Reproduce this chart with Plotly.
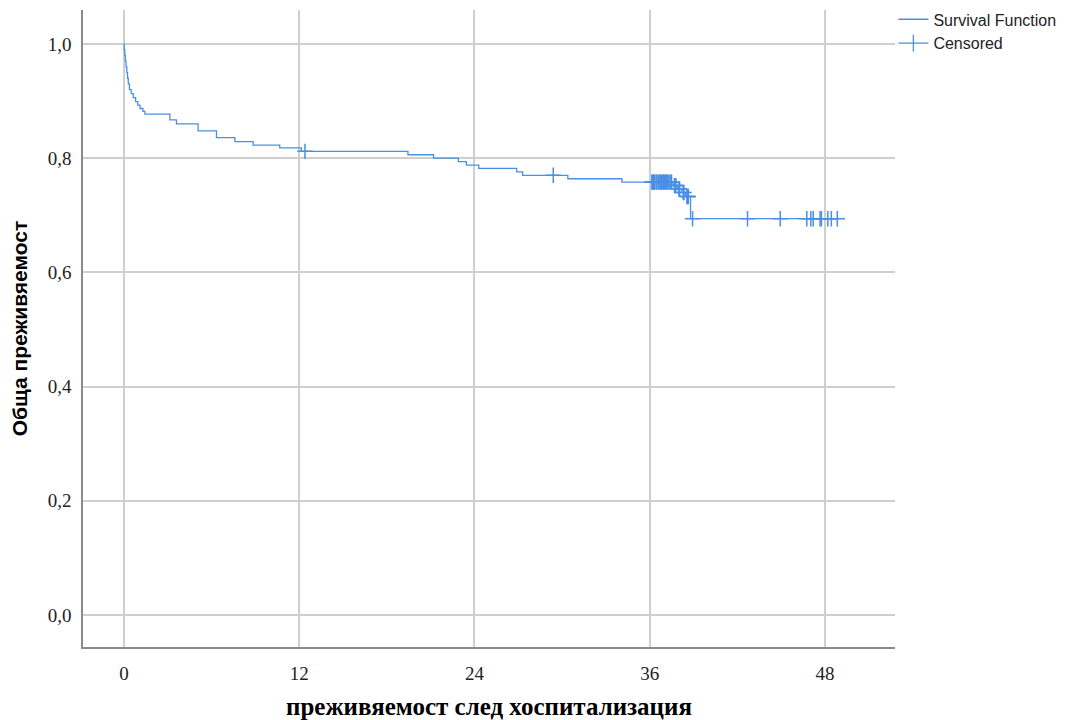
import plotly.graph_objects as go

# Kaplan-Meier step data (months, survival)
event_times = [0.0, 0.02, 0.06, 0.10, 0.15, 0.20, 0.25, 0.30, 0.38, 0.50, 0.64, 0.80, 0.95,
               1.10, 1.30, 1.44, 3.15, 3.60, 5.08, 6.34, 7.60, 8.85, 10.67, 12.15,
               19.45, 21.20, 22.90, 23.45, 24.30, 26.90, 27.30, 30.40, 34.10,
               37.60, 37.90, 38.20, 38.45, 38.80]
survival = [1.000, 0.990, 0.980, 0.970, 0.960, 0.950, 0.940, 0.930, 0.920, 0.913, 0.906, 0.899, 0.893,
            0.887, 0.882, 0.877, 0.867, 0.860, 0.848, 0.836, 0.829, 0.823, 0.818, 0.812,
            0.806, 0.800, 0.794, 0.788, 0.782, 0.776, 0.770, 0.764, 0.758,
            0.752, 0.746, 0.740, 0.733, 0.694]

censored_times = [12.4, 29.4,
                  36.15, 36.2, 36.25, 36.3, 36.35, 36.45, 36.5, 36.6, 36.7, 36.75, 36.8, 36.9,
                  36.95, 37.0, 37.1, 37.15, 37.2, 37.3, 37.4, 37.45, 37.5,
                  37.7, 37.75, 37.8, 38.0, 38.05, 38.3, 38.35, 38.55, 38.6, 38.65,
                  38.94, 42.7, 44.94, 46.76, 47.04, 47.2, 47.67, 47.76, 48.2, 48.44, 48.85]

x_ticks = [0, 12, 24, 36, 48]
y_ticks = [0.0, 0.2, 0.4, 0.6, 0.8, 1.0]
y_ticktext = ["0,0", "0,2", "0,4", "0,6", "0,8", "1,0"]


def surv_at(t):
    s = survival[0]
    for et, sv in zip(event_times, survival):
        if et <= t:
            s = sv
    return s


censored_surv = [surv_at(t) for t in censored_times]
end_t = max(censored_times)
line_x = event_times + [end_t]
line_y = survival + [survival[-1]]

color = "#4a8fe3"

fig = go.Figure()
fig.add_trace(go.Scatter(x=line_x, y=line_y, mode="lines", line=dict(color=color, width=1.3, shape="hv"),
                         name="Survival Function"))
fig.add_trace(go.Scatter(x=censored_times, y=censored_surv, mode="markers",
                         marker=dict(symbol="cross-thin", size=11, line=dict(color=color, width=1.5), color=color),
                         showlegend=False, name="Censored"))
fig.add_trace(go.Scatter(x=[None], y=[None], mode="lines+markers",
                         line=dict(color=color, width=1.3),
                         marker=dict(symbol="line-ns", size=12, line=dict(color=color, width=1.3)),
                         name="Censored"))

fig.update_layout(
    width=1057, height=712,
    margin=dict(l=75, r=170, t=2, b=73, autoexpand=False),
    plot_bgcolor="white", paper_bgcolor="white",
    legend=dict(x=0.998, xanchor="left", y=1.012, yanchor="top",
                font=dict(family="Liberation Sans, Arial", size=16, color="#222"),
                tracegroupgap=0, itemwidth=30, bgcolor="rgba(0,0,0,0)"),
    xaxis=dict(range=[-2.8, 52.8], tickvals=x_ticks, ticktext=[str(v) for v in x_ticks],
               showgrid=True, gridcolor="#cfcfcf", gridwidth=1.5, zeroline=False,
               showline=True, linecolor="#8a8a8a", linewidth=1.5, ticks="",
               ticklabelstandoff=8, automargin=False,
               tickfont=dict(family="Liberation Serif, Times New Roman", size=19, color="#222"),
               title=dict(text="преживяемост след хоспитализация", standoff=22,
                          font=dict(family="Liberation Serif, Times New Roman", size=25, color="black",
                                    weight="bold"))),
    yaxis=dict(range=[-0.056, 1.0595], tickvals=y_ticks, ticktext=y_ticktext,
               showgrid=True, gridcolor="#cfcfcf", gridwidth=1.5, zeroline=False,
               showline=True, linecolor="#8a8a8a", linewidth=1.5, ticks="",
               ticklabelstandoff=6, automargin=False,
               tickfont=dict(family="Liberation Serif, Times New Roman", size=19, color="#222"),
               title=dict(text="Обща преживяемост", standoff=18,
                          font=dict(family="Liberation Sans, Arial", size=21, color="black",
                                    weight="bold"))),
)

fig.write_html("out.html")
